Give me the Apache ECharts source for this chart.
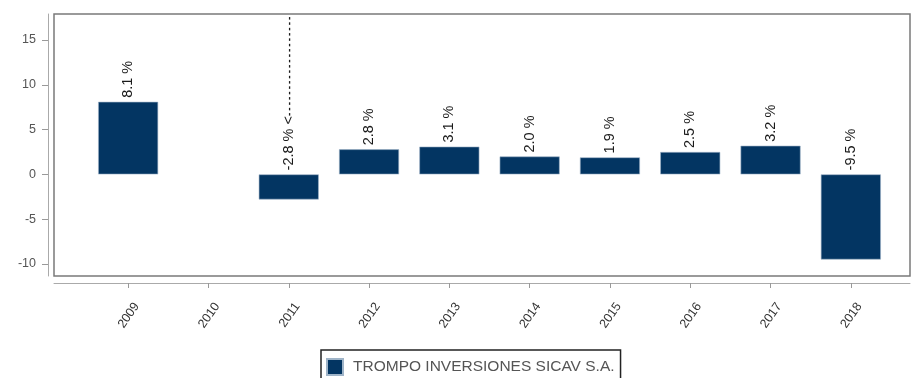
<!DOCTYPE html>
<html>
<head>
<meta charset="utf-8">
<script src="https://cdn.jsdelivr.net/npm/echarts@6/dist/echarts.min.js"></script>
<style>
  html, body { margin: 0; padding: 0; background: #fff; }
  #chart { width: 920px; height: 378px; }
</style>
</head>
<body>
<div id="chart"></div>
<script>
const years = ['2009', '2010', '2011', '2012', '2013', '2014', '2015', '2016', '2017', '2018']
const returns = [8.1, null, -2.8, 2.8, 3.1, 2.0, 1.9, 2.5, 3.2, -9.5]
// 2011 has a dashed leader pointing down at its label
const leaderLen = [0, 0, 19, 0, 0, 0, 0, 0, 0, 0]
const yTicks = { min: -10, max: 15, step: 5 }
const seriesName = 'TROMPO INVERSIONES SICAV S.A.'

const chart = echarts.init(document.getElementById('chart'))

const barData = returns.map((v, i) => {
  let txt = ''
  if (v != null) {
    txt = '{v|' + v.toFixed(1) + ' %}'
    if (leaderLen[i] > 0) {
      txt += '{v| <}{d|' + '-\u2009'.repeat(leaderLen[i]) + '}'
    }
  }
  return { value: v, label: { formatter: txt } }
})

const option = {
  animation: false,
  textStyle: { fontFamily: 'Liberation Sans, Arial, sans-serif' },
  grid: [
    // outer frame
    { left: 54, right: 10, top: 14, bottom: 102, show: true, borderColor: '#7a7a7a', borderWidth: 1.5 },
    // plotting area
    { left: 88, right: 29, top: 40, bottom: 114 }
  ],
  xAxis: [
    {
      gridIndex: 0, type: 'value', offset: 7, min: 0, max: 1,
      axisLine: { show: true, onZero: false, lineStyle: { color: '#aaa' } },
      axisTick: { show: false }, axisLabel: { show: false }, splitLine: { show: false }
    },
    {
      gridIndex: 1, type: 'category', data: years, offset: 19,
      axisLine: { show: false, onZero: false },
      axisTick: { show: true, alignWithLabel: true, length: 5, lineStyle: { color: '#999' } },
      axisLabel: {
        rotate: 55, fontSize: 12.5, color: '#333', margin: 15,
        verticalAlign: 'top', padding: [4, 0, 0, 0]
      }
    }
  ],
  yAxis: [
    {
      gridIndex: 0, type: 'value', offset: 6, min: 0, max: 1,
      axisLine: { show: true, onZero: false, lineStyle: { color: '#aaa' } },
      axisTick: { show: false }, axisLabel: { show: false }, splitLine: { show: false }
    },
    {
      gridIndex: 1, type: 'value', min: yTicks.min, max: yTicks.max, interval: yTicks.step, offset: 40,
      axisLine: { show: false },
      axisTick: { show: true, length: 6, lineStyle: { color: '#999' } },
      axisLabel: { fontSize: 12.5, color: '#555', margin: 12 },
      splitLine: { show: false }
    }
  ],
  legend: {
    left: 321, top: 350,
    data: [seriesName],
    icon: 'rect', itemWidth: 16, itemHeight: 16,
    padding: [8, 6, 12, 5],
    borderColor: '#222', borderWidth: 1.5,
    textStyle: { fontSize: 15.5, color: '#555', padding: [0, 0, 0, 5] }
  },
  series: [
    {
      name: seriesName,
      type: 'bar',
      xAxisIndex: 1, yAxisIndex: 1,
      barWidth: 60,
      itemStyle: { color: '#033562', borderColor: '#9fb4c8', borderWidth: 0.6 },
      label: {
        show: true, position: 'top', rotate: 90, distance: 4,
        align: 'left', verticalAlign: 'middle',
        rich: {
          v: { fontSize: 14.5, color: '#1a1a1a' },
          d: { fontSize: 10, color: '#1a1a1a', fontWeight: 'bold' }
        }
      },
      data: barData
    }
  ]
}

chart.setOption(option)
</script>
</body>
</html>
